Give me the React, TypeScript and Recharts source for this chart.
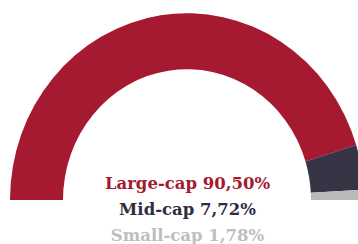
import React from "react";
import { PieChart, Pie, Cell } from "recharts";

const categories = ["Large-cap", "Mid-cap", "Small-cap"];
const values = [90.5, 7.72, 1.78];
const labels = ["90,50%", "7,72%", "1,78%"];
const colors = ["#A51931", "#363445", "#B9B9B7"];
const textColors = ["#A51931", "#2E2E40", "#BEBEBE"];

const data = categories.map((name, i) => ({ name, value: values[i] }));

export default function App() {
  return (
    <div style={{ position: "absolute", left: 0, top: 0, width: 358, height: 244, overflow: "hidden", background: "#fff" }}>
      <div style={{ position: "absolute", left: 0, top: 0, transform: "scaleY(1.055)", transformOrigin: "187px 200px" }}>
        <PieChart width={358} height={244} margin={{ top: 0, right: 0, bottom: 0, left: 0 }}>
          <Pie
            data={data}
            dataKey="value"
            nameKey="name"
            cx={187}
            cy={200}
            startAngle={180}
            endAngle={0}
            innerRadius={124}
            outerRadius={177}
            stroke="none"
            isAnimationActive={false}
          >
            {data.map((d, i) => (
              <Cell key={d.name} fill={colors[i]} />
            ))}
          </Pie>
        </PieChart>
      </div>
      <svg width={358} height={244} style={{ position: "absolute", left: 0, top: 0 }}>
        {categories.map((c, i) => (
          <text
            key={c}
            x={187.5}
            y={189 + i * 26}
            textAnchor="middle"
            fill={textColors[i]}
            style={{ fontFamily: "'DejaVu Serif', serif", fontWeight: 700, fontSize: 16.5 }}
          >
            {`${c} ${labels[i]}`}
          </text>
        ))}
      </svg>
    </div>
  );
}
